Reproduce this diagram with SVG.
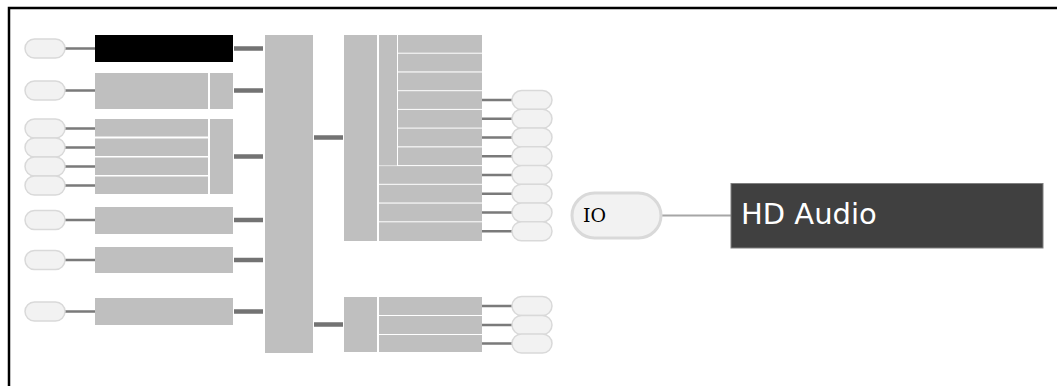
<svg xmlns="http://www.w3.org/2000/svg" width="1057" height="386" viewBox="0 0 1057 386">
<style>
.pill{fill:#f2f2f2;stroke:#d9d9d9;stroke-width:1.5}
.box{fill:#bfbfbf}
.thin{stroke:#7a7a7a;stroke-width:2.5;fill:none}
.thick{stroke:#737373;stroke-width:4.5;fill:none}
</style>
<rect x="0" y="0" width="1057" height="386" fill="#ffffff"/>
<g id="frame" stroke="#000" stroke-width="2.5" fill="none">
<path d="M9 386 V8 H1057"/>
</g>
<g id="connectors">
<path class="thin" d="M65 48.5H95M65 90.5H95M65 128.5H95M65 147.5H95M65 166.5H95M65 185.5H95M65 220H95M65 260H95M65 311.5H95"/>
<path class="thick" d="M234 48.5H263M234 90.5H263M234 156.5H263M234 220H263M234 260H263M234 311.5H263M314 137.5H343M314 324.5H343"/>
<path class="thin" d="M482 100.1H512M482 118.8H512M482 137.5H512M482 156.3H512M482 175H512M482 193.7H512M482 212.4H512M482 231.2H512M482 306H512M482 325H512M482 343.5H512"/>
<path stroke="#a6a6a6" stroke-width="2" d="M661 215.5H731"/>
</g>
<g id="left-pills">
<rect class="pill" x="25" y="39" width="40" height="19" rx="9.5"/>
<rect class="pill" x="25" y="81" width="40" height="19" rx="9.5"/>
<rect class="pill" x="25" y="119" width="40" height="19" rx="9.5"/>
<rect class="pill" x="25" y="138" width="40" height="19" rx="9.5"/>
<rect class="pill" x="25" y="157" width="40" height="19" rx="9.5"/>
<rect class="pill" x="25" y="176" width="40" height="19" rx="9.5"/>
<rect class="pill" x="25" y="210.5" width="40" height="19" rx="9.5"/>
<rect class="pill" x="25" y="250.5" width="40" height="19" rx="9.5"/>
<rect class="pill" x="25" y="302" width="40" height="19" rx="9.5"/>
</g>
<g id="row1"><rect x="95" y="35" width="138" height="27" fill="#000"/></g>
<g id="row2"><rect class="box" x="95" y="73" width="113" height="36"/><rect class="box" x="210" y="73" width="23" height="36"/></g>
<g id="row3">
<rect class="box" x="95" y="119" width="113" height="17.5"/>
<rect class="box" x="95" y="138.5" width="113" height="17.5"/>
<rect class="box" x="95" y="157.5" width="113" height="17.5"/>
<rect class="box" x="95" y="176.5" width="113" height="17.5"/>
<rect class="box" x="210" y="119" width="23" height="75"/>
</g>
<g id="row4"><rect class="box" x="95" y="207" width="138" height="27"/></g>
<g id="row5"><rect class="box" x="95" y="247" width="138" height="26"/></g>
<g id="row6"><rect class="box" x="95" y="298" width="138" height="27"/></g>
<g id="column"><rect class="box" x="265" y="35" width="48" height="318"/></g>
<g id="group-a">
<rect class="box" x="344" y="35" width="33" height="206"/>
<rect class="box" x="379" y="35" width="18" height="130.5"/>
<rect class="box" x="398" y="35" width="84" height="17.7"/>
<rect class="box" x="398" y="53.7" width="84" height="17.7"/>
<rect class="box" x="398" y="72.5" width="84" height="17.7"/>
<rect class="box" x="398" y="91.2" width="84" height="17.7"/>
<rect class="box" x="398" y="109.9" width="84" height="17.7"/>
<rect class="box" x="398" y="128.6" width="84" height="17.7"/>
<rect class="box" x="398" y="147.4" width="84" height="17.7"/>
<rect class="box" x="379" y="166.1" width="103" height="17.7"/>
<rect class="box" x="379" y="184.8" width="103" height="17.7"/>
<rect class="box" x="379" y="203.6" width="103" height="17.7"/>
<rect class="box" x="379" y="222.3" width="103" height="18.7"/>
</g>
<g id="group-a-pills">
<rect class="pill" x="512" y="90.6" width="40" height="19" rx="9.5"/>
<rect class="pill" x="512" y="109.3" width="40" height="19" rx="9.5"/>
<rect class="pill" x="512" y="128" width="40" height="19" rx="9.5"/>
<rect class="pill" x="512" y="146.8" width="40" height="19" rx="9.5"/>
<rect class="pill" x="512" y="165.5" width="40" height="19" rx="9.5"/>
<rect class="pill" x="512" y="184.2" width="40" height="19" rx="9.5"/>
<rect class="pill" x="512" y="202.9" width="40" height="19" rx="9.5"/>
<rect class="pill" x="512" y="221.7" width="40" height="19" rx="9.5"/>
</g>
<g id="group-b">
<rect class="box" x="344" y="297" width="33" height="55"/>
<rect class="box" x="379" y="297" width="103" height="18"/>
<rect class="box" x="379" y="316" width="103" height="18"/>
<rect class="box" x="379" y="335" width="103" height="17"/>
</g>
<g id="group-b-pills">
<rect class="pill" x="512" y="296.5" width="40" height="19" rx="9.5"/>
<rect class="pill" x="512" y="315.5" width="40" height="19" rx="9.5"/>
<rect class="pill" x="512" y="334" width="40" height="19" rx="9.5"/>
</g>
<g id="io">
<rect x="572" y="193" width="89" height="45" rx="22.5" fill="#f2f2f2" stroke="#d9d9d9" stroke-width="3"/>
<text x="583" y="222" font-family="'DejaVu Serif', serif" font-size="19" fill="#000">IO</text>
</g>
<g id="hd-audio">
<rect x="731" y="183.5" width="312" height="64.5" fill="#404040" stroke="#7f7f7f" stroke-width="1"/>
<text x="741" y="224" font-family="'DejaVu Sans', sans-serif" font-size="29" fill="#ffffff">HD Audio</text>
</g>
</svg>
